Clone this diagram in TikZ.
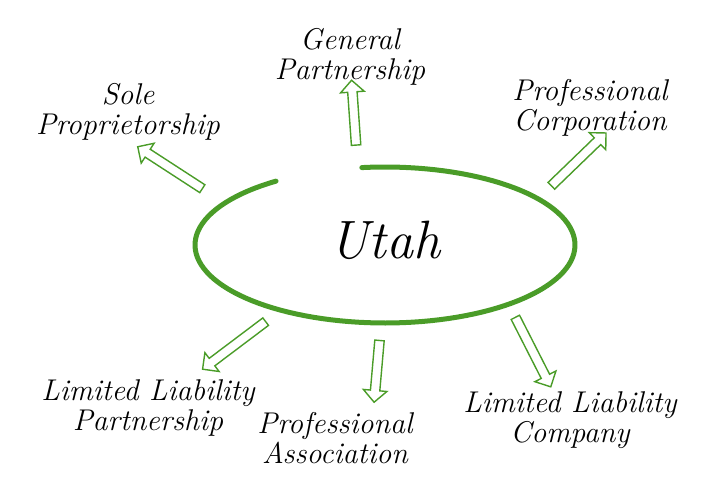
\documentclass[tikz,border=0pt]{standalone}
\usepackage{fontspec}
\usetikzlibrary{shapes.arrows}
\definecolor{gr}{HTML}{4A9C28}
\begin{document}
\begin{tikzpicture}[x=1pt,y=-1pt,
  harrow/.style={single arrow, draw=gr, fill=white, line width=1.4pt, minimum width=22pt, inner xsep=0pt, inner ysep=4pt, single arrow head indent=0pt},
  lbl/.style={font=\fontsize{30}{30}\selectfont\itshape, align=center, text=black}]
\useasboundingbox (0,0) rectangle (707,498);
\draw[gr, line width=5pt, line cap=round] plot[domain=-97:235, samples=120] ({385+190*cos(\x)},{245+78*sin(\x)});
\node[font=\fontsize{54}{56}\selectfont\itshape] (utah) at (385,240) {Utah};
\node[harrow, minimum height=77pt, rotate=147] (a1) at (172,169) {};
\node[harrow, minimum height=65pt, rotate=94] (a2) at (354,115) {};
\node[harrow, minimum height=76pt, rotate=44] (a3) at (577,161) {};
\node[harrow, minimum height=79pt, rotate=217] (a4) at (236,344) {};
\node[harrow, minimum height=62pt, rotate=265] (a5) at (377,369) {};
\node[harrow, minimum height=78pt, rotate=297] (a6) at (532,350) {};
\node[lbl] (t1) at (128,112) {Sole\\Proprietorship};
\node[lbl] (t2) at (350,57) {General\\Partnership};
\node[lbl] (t3) at (590,108) {Professional\\Corporation};
\node[lbl] (t4) at (148,408) {Limited Liability\\Partnership};
\node[lbl] (t5) at (335,438) {Professional\\Association};
\node[lbl] (t6) at (570,420) {Limited Liability\\Company};
\end{tikzpicture}
\end{document}
